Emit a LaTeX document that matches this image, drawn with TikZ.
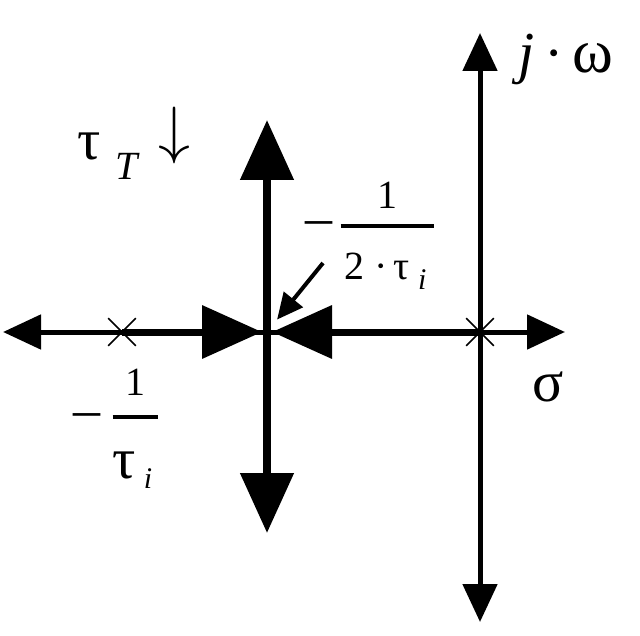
\RequirePackage{fix-cm}
\documentclass[tikz,border=0pt]{standalone}
\usepackage{amsmath}
\usepackage{fontspec}
\setmainfont{Liberation Serif}
\usepackage{tikz}
\usetikzlibrary{arrows.meta,shapes.misc}
\newcommand{\gk}{\fontsize{29}{30}\selectfont}
\newcommand{\idx}{\fontsize{15}{16}\selectfont\textit{i}}
\newcommand{\minussign}{\mbox{\fontsize{27}{27}\selectfont –}}

\begin{document}
\begin{tikzpicture}[
        x=0.5pt, y=-0.5pt,
        font=\fontsize{20}{24}\selectfont,
        every node/.style={inner sep=0pt},
        axis/.style={line width=2.5pt, {Triangle[length=19pt,width=17pt]}-{Triangle[length=19pt,width=17pt]}},
        locus/.style={line width=3.5pt},
        bighead/.tip={Triangle[length=30pt,width=26pt]},
        pole/.style={cross out, draw, line width=0.8pt, minimum size=13pt},
        pointer/.style={line width=2pt, -{Triangle[length=13pt,width=12pt]}, shorten >=8pt},
    ]
    \useasboundingbox (0,0) rectangle (640,635);
    \coordinate (west) at (3,332);
    \coordinate (east) at (565,332);
    \coordinate (north) at (480,33);
    \coordinate (south) at (480,622);
    \coordinate (brk) at (267,332);
    \coordinate (up) at (267,120);
    \coordinate (down) at (267,533);
    \node[pole] (p1) at (122,332) {};
    \node[pole] (p0) at (480,332) {};
    % axes
    \draw[axis] (west) -- (east);
    \draw[axis] (south) -- (north);
    % root locus
    \draw[locus, -bighead, shorten >=2.5pt] (p1.center) -- (brk);
    \draw[locus, -bighead, shorten >=2.5pt] (p0.center) -- (brk);
    \draw[locus, line width=4pt, bighead-bighead] (down) -- (up);
    % labels
    \node[anchor=base west] (tauT) at (77,160) {\gk τ\hspace{7.5pt}\raisebox{-10pt}{\fontsize{20}{24}\selectfont\textit{T}}\hspace{9pt}\raisebox{4pt}{\fontsize{32}{32}\selectfont$\downarrow$}};
    \node[anchor=base] (polelbl) at (117,427) {$\minussign\hspace{5pt}\genfrac{}{}{1.6pt}{0}{\mbox{1}\rule[-5pt]{0pt}{5pt}}{\rule{0pt}{25pt}\mbox{\gk τ\hspace{4pt}\raisebox{-5pt}{\idx}\hspace{3pt}}}$};
    \node[anchor=base] (brklbl) at (371,236) {$\minussign\hspace{3pt}\genfrac{}{}{1.6pt}{0}{\mbox{1}}{\rule{0pt}{21pt}\mbox{\hspace{2pt}2\hspace{5pt}·\hspace{3pt}τ\hspace{4pt}\raisebox{-5pt}{\idx}\hspace{4pt}}}$};
    \node (sigma) at (548,387) {\gk σ};
    \node (jomega) at (566,59) {\fontsize{29}{30}\selectfont\textit{j}\,·\,{\fontsize{31}{32}\selectfont ω}};
    \coordinate (tail) at (323,263);
    \draw[pointer] (tail) -- (brk);
\end{tikzpicture}
\end{document}
